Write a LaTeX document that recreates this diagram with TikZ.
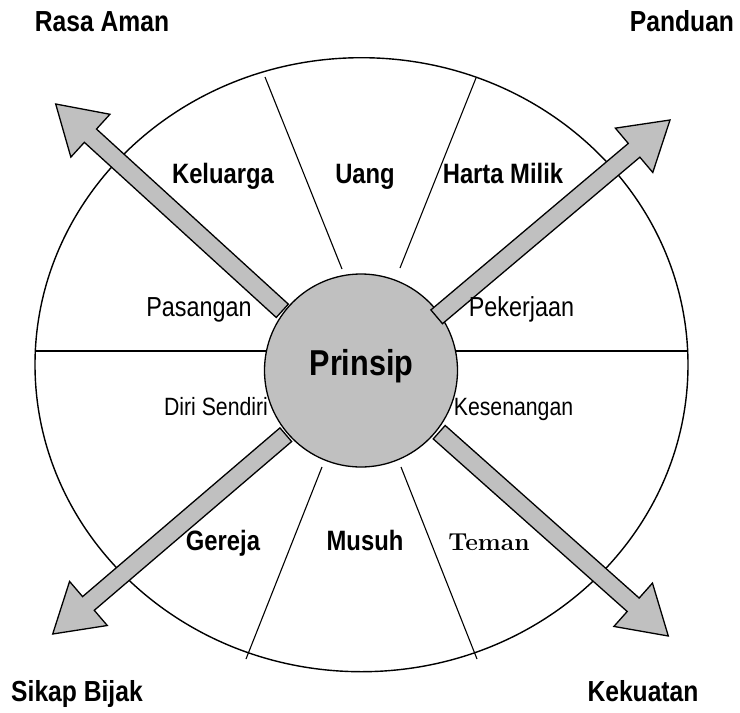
\documentclass[tikz,border=0pt]{standalone}
\usepackage{fontspec}
\newfontfamily\nsans{Liberation Sans}[FakeStretch=0.85]
\usetikzlibrary{calc}
\definecolor{silverg}{HTML}{C0C0C0}
\begin{document}
\begin{tikzpicture}[x=1pt,y=-1pt,
  rim/.style={draw=black,line width=1.4pt},
  divider/.style={draw=black,line width=1.1pt},
  fatarrow/.style={draw=black,fill=silverg,line width=1.3pt,line join=miter},
  boldlbl/.style={font=\nsans\bfseries\fontsize{28}{30}\selectfont,anchor=base,inner sep=0pt},
  cornerlbl/.style={font=\nsans\bfseries\fontsize{29}{31}\selectfont,anchor=base,inner sep=0pt},
  reglbl/.style={font=\nsans\fontsize{27.5}{30}\selectfont,anchor=base,inner sep=0pt},
  smalllbl/.style={font=\nsans\fontsize{25}{28}\selectfont,anchor=base,inner sep=0pt}]
\fill[white] (0,0) rectangle (740,713);
\useasboundingbox (0,0) rectangle (740,713);
% outer ellipse
\draw[rim,fill=white] (361.5,364.7) ellipse [x radius=326.5pt,y radius=307pt];
% dividers
\coordinate (hl) at (35,351);
\coordinate (hr) at (688,351);
\coordinate (tlo) at (265,77);
\coordinate (tli) at (342,269);
\coordinate (tro) at (476,78);
\coordinate (tri) at (400,268);
\coordinate (bli) at (322,467);
\coordinate (blo) at (246,659);
\coordinate (bri) at (401,467);
\coordinate (bro) at (477,659);
\draw[divider] (hl) -- (hr);
\draw[divider] (tlo) -- (tli);
\draw[divider] (tro) -- (tri);
\draw[divider] (bli) -- (blo);
\draw[divider] (bri) -- (bro);
% centre circle
\node[circle,draw=black,line width=1.3pt,fill=silverg,minimum size=193pt,inner sep=0pt] (pc) at (361,370.5) {};
% arrows
\coordinate (ulT) at (282.3,310.8);
\coordinate (ulP) at (55.7,104);
\coordinate (urT) at (436.7,316.8);
\coordinate (urP) at (670,120);
\coordinate (llT) at (285.8,434.7);
\coordinate (llP) at (52.7,634);
\coordinate (lrT) at (439.2,432.2);
\coordinate (lrP) at (668.3,636);
\foreach \t/\p in {ulT/ulP,urT/urP,llT/llP,lrT/lrP}{
  \coordinate (hb) at ($(\p)!47pt!(\t)$);
  \draw[fatarrow] ($(\t)!9pt!90:(\p)$) -- ($(hb)!9pt!90:(\p)$) -- ($(hb)!29pt!90:(\p)$)
     -- (\p) -- ($(hb)!29pt!-90:(\p)$) -- ($(hb)!9pt!-90:(\p)$) -- ($(\t)!9pt!-90:(\p)$) -- cycle;
}
% labels
\node[font=\nsans\bfseries\fontsize{36}{38}\selectfont,anchor=base,inner sep=0pt] (prinsip) at (361.5,375) {Prinsip};
\node[boldlbl] (keluarga) at (223,183) {Keluarga};
\node[boldlbl] (uang) at (365,183) {Uang};
\node[boldlbl] (harta) at (503,183) {Harta Milik};
\node[reglbl] (pasangan) at (199,316.5) {Pasangan};
\node[reglbl] (pekerjaan) at (521.5,316.5) {Pekerjaan};
\node[smalllbl] (diri) at (216,415) {Diri Sendiri};
\node[smalllbl] (senang) at (513.5,415) {Kesenangan};
\node[boldlbl] (gereja) at (223,550) {Gereja};
\node[boldlbl] (musuh) at (365,550) {Musuh};
\node[font=\bfseries\fontsize{24.5}{27}\selectfont,anchor=base,inner sep=0pt] (teman) at (489,550.5) {Teman};
\node[cornerlbl] (rasa) at (102,31) {Rasa Aman};
\node[cornerlbl] (panduan) at (682,31) {Panduan};
\node[cornerlbl] (sikap) at (77,701) {Sikap Bijak};
\node[cornerlbl] (kekuatan) at (643,701) {Kekuatan};
\end{tikzpicture}
\end{document}
